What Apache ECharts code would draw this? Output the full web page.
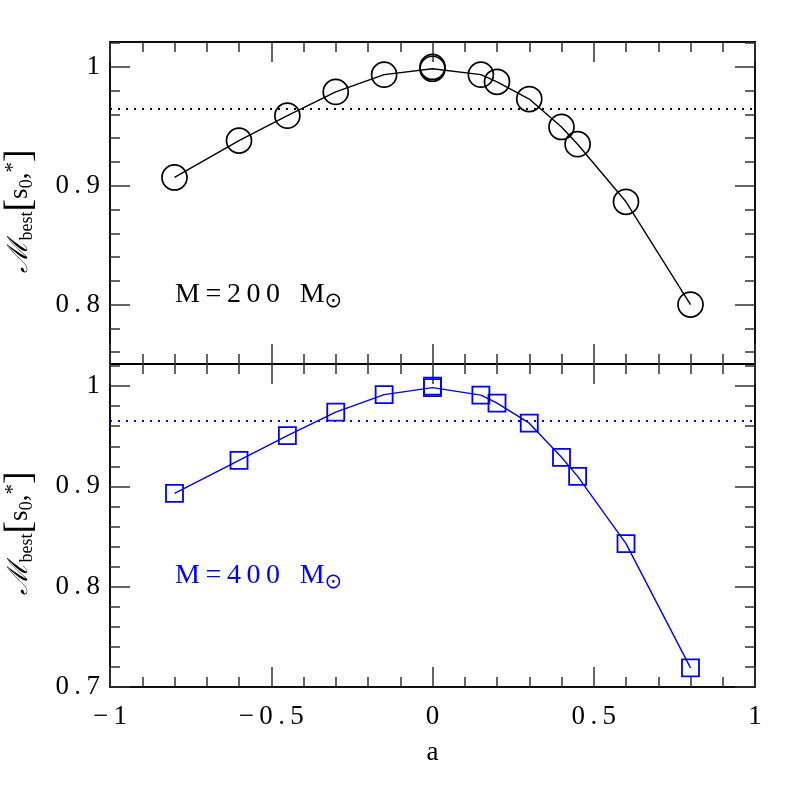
<!DOCTYPE html>
<html>
<head>
<meta charset="utf-8">
<script src="https://cdn.jsdelivr.net/npm/echarts@6/dist/echarts.min.js"></script>
<style>
  html, body { margin: 0; background: #fff; }
  #chart { width: 797px; height: 797px; }
</style>
</head>
<body>
<div id="chart"></div>
<script>
// spin values (x) and best match for each mass
var spinTop = [-0.8, -0.6, -0.45, -0.3, -0.15, 0, 0, 0.15, 0.2, 0.3, 0.4, 0.45, 0.6, 0.8];
var matchTop = [0.907, 0.938, 0.959, 0.979, 0.9935, 0.9985, 1.0, 0.9935, 0.9875, 0.973, 0.9495, 0.935, 0.8865, 0.8];
var spinBot = [-0.8, -0.6, -0.45, -0.3, -0.15, 0, 0, 0.15, 0.2, 0.3, 0.4, 0.45, 0.6, 0.8];
var matchBot = [0.893, 0.926, 0.9505, 0.974, 0.9915, 0.9985, 1.0, 0.991, 0.983, 0.963, 0.929, 0.91, 0.843, 0.719];
var threshold = 0.965;

// tick values
var xMajor = [-1, -0.5, 0, 0.5, 1];
var xMinor = [-0.9, -0.8, -0.7, -0.6, -0.4, -0.3, -0.2, -0.1, 0.1, 0.2, 0.3, 0.4, 0.6, 0.7, 0.8, 0.9];
var yTopMajor = [0.8, 0.9, 1];
var yTopMinor = [0.76, 0.78, 0.82, 0.84, 0.86, 0.88, 0.92, 0.94, 0.96, 0.98, 1.02];
var yBotMajor = [0.7, 0.8, 0.9, 1];
var yBotMinor = [0.72, 0.74, 0.76, 0.78, 0.82, 0.84, 0.86, 0.88, 0.92, 0.94, 0.96, 0.98, 1.02];

var FONT = "Liberation Serif";
var tickColor = "#333";

function fmt(v) {
  // spaced out like the original plot fonts
  return String(v).replace("-", "\u2212").split("").join("\u2009");
}

function xAxisOf(grid, pos, ticks, len, labels) {
  return {
    type: "value", gridIndex: grid, position: pos, min: -1, max: 1,
    axisLine: { show: true, onZero: false, lineStyle: { color: "#000", width: 1.5 } },
    axisTick: { show: true, inside: true, length: len, customValues: ticks,
      lineStyle: { color: tickColor, width: 1.5 } },
    axisLabel: labels ? { show: true, customValues: xMajor, formatter: fmt, margin: 16,
      fontFamily: FONT, fontSize: 27, color: "#000" } : { show: false },
    splitLine: { show: false },
    name: labels ? "a" : "",
    nameLocation: "middle", nameGap: 52,
    nameTextStyle: { fontFamily: FONT, fontSize: 27, color: "#000" }
  };
}

function yAxisOf(grid, pos, min, max, ticks, len, labels) {
  return {
    type: "value", gridIndex: grid, position: pos, min: min, max: max,
    axisLine: { show: true, onZero: false, lineStyle: { color: "#000", width: 1.5 } },
    axisTick: { show: true, inside: true, length: len, customValues: ticks,
      lineStyle: { color: tickColor, width: 1.5 } },
    axisLabel: labels ? { show: true, customValues: labels, formatter: fmt, margin: 10,
      fontFamily: FONT, fontSize: 27, color: "#000" } : { show: false },
    splitLine: { show: false }
  };
}

function pairs(xs, ys) {
  return xs.map(function (x, i) { return [x, ys[i]]; });
}

function yLabel(x, y) {
  return {
    type: "text", x: x, y: y, rotation: Math.PI / 2,
    style: {
      text: "{m|\u2133}{sub|best}{br|[}{s|s}{sub|0}{s|,}{sup|*}{br|]}",
      align: "center", verticalAlign: "middle",
      rich: {
        m: { fontFamily: "DejaVu Serif", fontStyle: "italic", fontSize: 28, fill: "#000" },
        s: { fontFamily: FONT, fontSize: 27, fill: "#000" },
        sub: { fontFamily: FONT, fontSize: 18, padding: [14, 0, 0, 0], fill: "#000" },
        sup: { fontFamily: FONT, fontSize: 21, padding: [0, 0, 14, 0], fill: "#000" },
        br: { fontFamily: FONT, fontSize: 38, fill: "#000" }
      }
    }
  };
}

function massLabel(x, y, txt, color) {
  return {
    type: "text", x: x, y: y,
    style: {
      text: "{t|" + txt + "}{o|\u2299}",
      align: "left", verticalAlign: "bottom",
      rich: {
        t: { fontFamily: FONT, fontSize: 28, fill: color },
        o: { fontFamily: "DejaVu Sans", fontSize: 21, padding: [14, 0, 0, 0], fill: color }
      }
    }
  };
}

var chart = echarts.init(document.getElementById("chart"), null, { renderer: "canvas" });

var option = {
  animation: false,
  backgroundColor: "#fff",
  grid: [
    { left: 110, right: 42, top: 42, height: 322, outerBoundsMode: "none" },
    { left: 110, right: 42, top: 364, height: 323, outerBoundsMode: "none" }
  ],
  xAxis: [
    xAxisOf(0, "bottom", xMajor, 20, false),
    xAxisOf(0, "bottom", xMinor, 10, false),
    xAxisOf(0, "top", xMajor, 20, false),
    xAxisOf(0, "top", xMinor, 10, false),
    xAxisOf(1, "bottom", xMajor, 20, true),
    xAxisOf(1, "bottom", xMinor, 10, false),
    xAxisOf(1, "top", xMajor, 20, false),
    xAxisOf(1, "top", xMinor, 10, false)
  ],
  yAxis: [
    yAxisOf(0, "left", 0.75, 1.021, yTopMajor, 20, yTopMajor),
    yAxisOf(0, "left", 0.75, 1.021, yTopMinor, 10, null),
    yAxisOf(0, "right", 0.75, 1.021, yTopMajor, 20, null),
    yAxisOf(0, "right", 0.75, 1.021, yTopMinor, 10, null),
    yAxisOf(1, "left", 0.7, 1.022, yBotMajor, 20, yBotMajor),
    yAxisOf(1, "left", 0.7, 1.022, yBotMinor, 10, null),
    yAxisOf(1, "right", 0.7, 1.022, yBotMajor, 20, null),
    yAxisOf(1, "right", 0.7, 1.022, yBotMinor, 10, null)
  ],
  series: [
    {
      name: "M=200", type: "line", xAxisIndex: 0, yAxisIndex: 0,
      data: pairs(spinTop, matchTop),
      symbol: "circle", symbolSize: 25, showSymbol: true,
      lineStyle: { color: "#000", width: 1.4 },
      itemStyle: { color: "rgba(0,0,0,0)", borderColor: "#000", borderWidth: 1.7 },
      emphasis: { disabled: true },
      markLine: {
        silent: true, symbol: "none", precision: 3, label: { show: false },
        lineStyle: { color: "#000", type: [2, 6], width: 2 },
        data: [{ yAxis: threshold }]
      }
    },
    {
      name: "M=400", type: "line", xAxisIndex: 4, yAxisIndex: 4,
      data: pairs(spinBot, matchBot),
      symbol: "rect", symbolSize: 17, showSymbol: true,
      lineStyle: { color: "#0000ff", width: 1.4 },
      itemStyle: { color: "rgba(0,0,0,0)", borderColor: "#0000ff", borderWidth: 1.8 },
      emphasis: { disabled: true },
      markLine: {
        silent: true, symbol: "none", precision: 3, label: { show: false },
        lineStyle: { color: "#0000ff", type: [2, 6], width: 2 },
        data: [{ yAxis: threshold }]
      }
    }
  ],
  graphic: [
    yLabel(20, 211),
    yLabel(20, 533),
    massLabel(175, 312, "M\u2009=\u20092\u20090\u20090\u2002\u2009M", "#000"),
    massLabel(175, 593, "M\u2009=\u20094\u20090\u20090\u2002\u2009M", "#0000ff")
  ]
};

chart.setOption(option);
</script>
</body>
</html>
